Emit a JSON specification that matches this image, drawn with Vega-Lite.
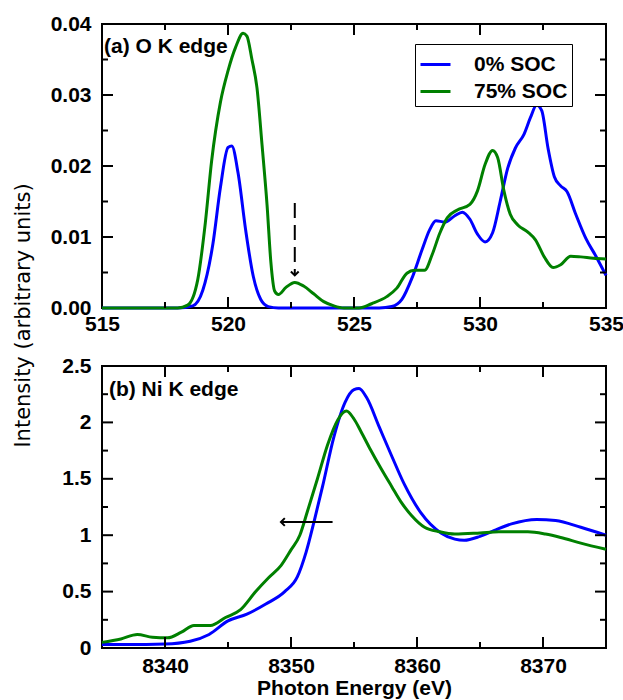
{
  "$schema": "https://vega.github.io/schema/vega-lite/v6.json",
  "padding": {"left": 11, "top": 12, "right": 0, "bottom": 0},
  "bounds": "flush",
  "spacing": 58,
  "config": {
    "view": {"stroke": "black", "strokeWidth": 2},
    "axis": {
      "domain": false, "ticks": false, "tickSize": 0, "grid": false,
      "labelFont": "Liberation Sans", "labelFontWeight": "bold", "labelFontSize": 21,
      "labelColor": "black", "labelFlush": false, "labelOverlap": false,
      "titleColor": "black"
    }
  },
  "datasets": {
    "ok": [
      {"s": "0% SOC", "e": 515, "v": 0}, {"s": "0% SOC", "e": 518.0, "v": 0}, {"s": "0% SOC", "e": 518.6, "v": 0.0003},
      {"s": "0% SOC", "e": 519.0, "v": 0.0025}, {"s": "0% SOC", "e": 519.4, "v": 0.009}, {"s": "0% SOC", "e": 519.7, "v": 0.017},
      {"s": "0% SOC", "e": 520.0, "v": 0.0226}, {"s": "0% SOC", "e": 520.15, "v": 0.0228}, {"s": "0% SOC", "e": 520.4, "v": 0.019},
      {"s": "0% SOC", "e": 520.7, "v": 0.011}, {"s": "0% SOC", "e": 521.0, "v": 0.0045}, {"s": "0% SOC", "e": 521.3, "v": 0.0012},
      {"s": "0% SOC", "e": 521.6, "v": 0.0002}, {"s": "0% SOC", "e": 522, "v": 0}, {"s": "0% SOC", "e": 526.0, "v": 0},
      {"s": "0% SOC", "e": 526.5, "v": 0.0002}, {"s": "0% SOC", "e": 526.9, "v": 0.0012}, {"s": "0% SOC", "e": 527.3, "v": 0.0042},
      {"s": "0% SOC", "e": 527.7, "v": 0.0082}, {"s": "0% SOC", "e": 528.0, "v": 0.011}, {"s": "0% SOC", "e": 528.25, "v": 0.0123},
      {"s": "0% SOC", "e": 528.6, "v": 0.0121}, {"s": "0% SOC", "e": 529.0, "v": 0.013}, {"s": "0% SOC", "e": 529.3, "v": 0.0135},
      {"s": "0% SOC", "e": 529.6, "v": 0.0125}, {"s": "0% SOC", "e": 529.9, "v": 0.0104}, {"s": "0% SOC", "e": 530.2, "v": 0.0093},
      {"s": "0% SOC", "e": 530.5, "v": 0.0106}, {"s": "0% SOC", "e": 530.8, "v": 0.015}, {"s": "0% SOC", "e": 531.1, "v": 0.0197},
      {"s": "0% SOC", "e": 531.4, "v": 0.0225}, {"s": "0% SOC", "e": 531.75, "v": 0.0245}, {"s": "0% SOC", "e": 532.0, "v": 0.0268},
      {"s": "0% SOC", "e": 532.25, "v": 0.0286}, {"s": "0% SOC", "e": 532.45, "v": 0.0278}, {"s": "0% SOC", "e": 532.7, "v": 0.0225},
      {"s": "0% SOC", "e": 532.95, "v": 0.0185}, {"s": "0% SOC", "e": 533.2, "v": 0.0172}, {"s": "0% SOC", "e": 533.45, "v": 0.0164},
      {"s": "0% SOC", "e": 533.8, "v": 0.0132}, {"s": "0% SOC", "e": 534.2, "v": 0.0098}, {"s": "0% SOC", "e": 534.6, "v": 0.0073},
      {"s": "0% SOC", "e": 535, "v": 0.0046},
      {"s": "75% SOC", "e": 515, "v": 0}, {"s": "75% SOC", "e": 518.0, "v": 0}, {"s": "75% SOC", "e": 518.4, "v": 0.0004},
      {"s": "75% SOC", "e": 518.8, "v": 0.004}, {"s": "75% SOC", "e": 519.1, "v": 0.012}, {"s": "75% SOC", "e": 519.35, "v": 0.0207},
      {"s": "75% SOC", "e": 519.7, "v": 0.029}, {"s": "75% SOC", "e": 520.0, "v": 0.0334}, {"s": "75% SOC", "e": 520.3, "v": 0.0367},
      {"s": "75% SOC", "e": 520.6, "v": 0.0387}, {"s": "75% SOC", "e": 520.75, "v": 0.0383}, {"s": "75% SOC", "e": 520.95, "v": 0.035},
      {"s": "75% SOC", "e": 521.15, "v": 0.031}, {"s": "75% SOC", "e": 521.35, "v": 0.023}, {"s": "75% SOC", "e": 521.55, "v": 0.0145},
      {"s": "75% SOC", "e": 521.7, "v": 0.0065}, {"s": "75% SOC", "e": 521.85, "v": 0.0024}, {"s": "75% SOC", "e": 522.0, "v": 0.0019},
      {"s": "75% SOC", "e": 522.3, "v": 0.0029}, {"s": "75% SOC", "e": 522.65, "v": 0.0036}, {"s": "75% SOC", "e": 523.0, "v": 0.0031},
      {"s": "75% SOC", "e": 523.4, "v": 0.002}, {"s": "75% SOC", "e": 523.8, "v": 0.0009}, {"s": "75% SOC", "e": 524.2, "v": 0.0003},
      {"s": "75% SOC", "e": 524.6, "v": 0}, {"s": "75% SOC", "e": 525.2, "v": 0}, {"s": "75% SOC", "e": 525.7, "v": 0.0006},
      {"s": "75% SOC", "e": 526.3, "v": 0.0016}, {"s": "75% SOC", "e": 526.7, "v": 0.0028}, {"s": "75% SOC", "e": 527.1, "v": 0.0049},
      {"s": "75% SOC", "e": 527.4, "v": 0.0053}, {"s": "75% SOC", "e": 527.8, "v": 0.0053}, {"s": "75% SOC", "e": 528.1, "v": 0.0075},
      {"s": "75% SOC", "e": 528.4, "v": 0.0105}, {"s": "75% SOC", "e": 528.7, "v": 0.0127}, {"s": "75% SOC", "e": 529.1, "v": 0.0138},
      {"s": "75% SOC", "e": 529.6, "v": 0.0146}, {"s": "75% SOC", "e": 529.9, "v": 0.0165}, {"s": "75% SOC", "e": 530.2, "v": 0.0202},
      {"s": "75% SOC", "e": 530.5, "v": 0.0222}, {"s": "75% SOC", "e": 530.7, "v": 0.0212}, {"s": "75% SOC", "e": 530.95, "v": 0.0165},
      {"s": "75% SOC", "e": 531.2, "v": 0.0132}, {"s": "75% SOC", "e": 531.5, "v": 0.0117}, {"s": "75% SOC", "e": 531.9, "v": 0.0107},
      {"s": "75% SOC", "e": 532.2, "v": 0.0096}, {"s": "75% SOC", "e": 532.55, "v": 0.0072}, {"s": "75% SOC", "e": 532.9, "v": 0.0057},
      {"s": "75% SOC", "e": 533.2, "v": 0.0061}, {"s": "75% SOC", "e": 533.6, "v": 0.0073}, {"s": "75% SOC", "e": 534.0, "v": 0.0072},
      {"s": "75% SOC", "e": 534.5, "v": 0.007}, {"s": "75% SOC", "e": 535, "v": 0.0069}
    ],
    "ni": [
      {"s": "0% SOC", "e": 8335, "v": 0.03}, {"s": "0% SOC", "e": 8337, "v": 0.03}, {"s": "0% SOC", "e": 8340, "v": 0.035},
      {"s": "0% SOC", "e": 8342, "v": 0.06}, {"s": "0% SOC", "e": 8343.5, "v": 0.12}, {"s": "0% SOC", "e": 8345, "v": 0.24},
      {"s": "0% SOC", "e": 8346.5, "v": 0.3}, {"s": "0% SOC", "e": 8348, "v": 0.39}, {"s": "0% SOC", "e": 8349.5, "v": 0.5},
      {"s": "0% SOC", "e": 8350.5, "v": 0.63}, {"s": "0% SOC", "e": 8351.2, "v": 0.85}, {"s": "0% SOC", "e": 8351.85, "v": 1.13},
      {"s": "0% SOC", "e": 8352.5, "v": 1.43}, {"s": "0% SOC", "e": 8353.4, "v": 1.87}, {"s": "0% SOC", "e": 8354.3, "v": 2.18},
      {"s": "0% SOC", "e": 8355.0, "v": 2.29}, {"s": "0% SOC", "e": 8355.4, "v": 2.3}, {"s": "0% SOC", "e": 8356.0, "v": 2.22},
      {"s": "0% SOC", "e": 8357.0, "v": 1.96}, {"s": "0% SOC", "e": 8358.0, "v": 1.7}, {"s": "0% SOC", "e": 8359.0, "v": 1.45},
      {"s": "0% SOC", "e": 8360.3, "v": 1.2}, {"s": "0% SOC", "e": 8361.9, "v": 1.02}, {"s": "0% SOC", "e": 8363.0, "v": 0.965},
      {"s": "0% SOC", "e": 8363.75, "v": 0.955}, {"s": "0% SOC", "e": 8365.0, "v": 0.99}, {"s": "0% SOC", "e": 8366.1, "v": 1.04},
      {"s": "0% SOC", "e": 8367.5, "v": 1.1}, {"s": "0% SOC", "e": 8369.5, "v": 1.14}, {"s": "0% SOC", "e": 8371, "v": 1.13},
      {"s": "0% SOC", "e": 8373, "v": 1.07}, {"s": "0% SOC", "e": 8375, "v": 1.0},
      {"s": "75% SOC", "e": 8335, "v": 0.05}, {"s": "75% SOC", "e": 8336.5, "v": 0.08}, {"s": "75% SOC", "e": 8337.8, "v": 0.12},
      {"s": "75% SOC", "e": 8339, "v": 0.095}, {"s": "75% SOC", "e": 8340.2, "v": 0.09}, {"s": "75% SOC", "e": 8341.3, "v": 0.14},
      {"s": "75% SOC", "e": 8342.3, "v": 0.2}, {"s": "75% SOC", "e": 8343.6, "v": 0.2}, {"s": "75% SOC", "e": 8344.8, "v": 0.27},
      {"s": "75% SOC", "e": 8346.0, "v": 0.34}, {"s": "75% SOC", "e": 8347.2, "v": 0.5}, {"s": "75% SOC", "e": 8348.2, "v": 0.62},
      {"s": "75% SOC", "e": 8349.2, "v": 0.73}, {"s": "75% SOC", "e": 8350.0, "v": 0.87}, {"s": "75% SOC", "e": 8350.7, "v": 1.0},
      {"s": "75% SOC", "e": 8351.3, "v": 1.21}, {"s": "75% SOC", "e": 8352.1, "v": 1.5}, {"s": "75% SOC", "e": 8352.9, "v": 1.8},
      {"s": "75% SOC", "e": 8353.7, "v": 2.02}, {"s": "75% SOC", "e": 8354.4, "v": 2.1}, {"s": "75% SOC", "e": 8355.0, "v": 2.03},
      {"s": "75% SOC", "e": 8355.55, "v": 1.92}, {"s": "75% SOC", "e": 8356.3, "v": 1.76}, {"s": "75% SOC", "e": 8357.1, "v": 1.6},
      {"s": "75% SOC", "e": 8358.0, "v": 1.43}, {"s": "75% SOC", "e": 8358.7, "v": 1.3}, {"s": "75% SOC", "e": 8359.6, "v": 1.17},
      {"s": "75% SOC", "e": 8360.6, "v": 1.07}, {"s": "75% SOC", "e": 8361.8, "v": 1.03}, {"s": "75% SOC", "e": 8363, "v": 1.01},
      {"s": "75% SOC", "e": 8365, "v": 1.02}, {"s": "75% SOC", "e": 8366.5, "v": 1.03}, {"s": "75% SOC", "e": 8368.8, "v": 1.03},
      {"s": "75% SOC", "e": 8370.2, "v": 1.01}, {"s": "75% SOC", "e": 8371.4, "v": 0.98}, {"s": "75% SOC", "e": 8373, "v": 0.93},
      {"s": "75% SOC", "e": 8375, "v": 0.875}
    ],
    "okNote": [{"px": 515.08, "py": 0.0368, "t": "(a) O K edge"}],
    "okArrow": [{"px": 522.65, "ytop": 0.0148, "ybot": 0.0048, "tip": 0.0046}],
    "niNote": [{"px": 8335.55, "py": 2.287, "t": "(b) Ni K edge"}],
    "niArrow": [{"xa": 8353.3, "xb": 8349.3, "py": 1.117, "tip": 8349.2}],
    "okXmaj": [{"t": 520}, {"t": 525}, {"t": 530}],
    "okXmin": [{"t": 517.5}, {"t": 522.5}, {"t": 527.5}, {"t": 532.5}],
    "okYmaj": [{"t": 0.01}, {"t": 0.02}, {"t": 0.03}],
    "okYmin": [{"t": 0.005}, {"t": 0.015}, {"t": 0.025}, {"t": 0.035}],
    "niXmaj": [{"t": 8340}, {"t": 8350}, {"t": 8360}, {"t": 8370}],
    "niXmin": [{"t": 8345}, {"t": 8355}, {"t": 8365}],
    "niYmaj": [{"t": 0.5}, {"t": 1}, {"t": 1.5}, {"t": 2}],
    "niYmin": [{"t": 0.25}, {"t": 0.75}, {"t": 1.25}, {"t": 1.75}, {"t": 2.25}]
  },
  "resolve": {"legend": {"color": "independent"}},
  "vconcat": [
    {
      "width": 504, "height": 284,
      "layer": [
        {
          "data": {"name": "ok"},
          "mark": {"type": "line", "strokeWidth": 3, "interpolate": "monotone"},
          "encoding": {
            "x": {"field": "e", "type": "quantitative", "scale": {"domain": [515, 535], "nice": false, "zero": false},
              "axis": {"orient": "bottom", "values": [515, 520, 525, 530, 535], "format": "d", "labelPadding": 5, "title": null}},
            "y": {"field": "v", "type": "quantitative", "scale": {"domain": [0, 0.04], "nice": false},
              "axis": {"orient": "left", "values": [0, 0.01, 0.02, 0.03, 0.04], "format": ".2f", "labelPadding": 11,
                "title": "Intensity (arbitrary units)", "titleFont": "DejaVu Sans", "titleFontWeight": "normal", "titleFontSize": 21,
                "titleAngle": -90, "titleBaseline": "alphabetic", "titleAlign": "center", "titleX": -73, "titleY": 291}},
            "color": {"field": "s", "type": "nominal", "scale": {"domain": ["0% SOC", "75% SOC"], "range": ["#0000ff", "#008000"]},
              "legend": {"orient": "none", "legendX": 313, "legendY": 20, "title": null, "strokeColor": "black",
                "fillColor": "white", "padding": 4, "symbolType": "stroke", "symbolSize": 900, "symbolStrokeWidth": 3,
                "labelFont": "Liberation Sans", "labelFontWeight": "bold", "labelFontSize": 21, "labelColor": "black",
                "labelOffset": 22, "rowPadding": -5}}
          }
        },
        {
          "data": {"name": "okArrow"},
          "mark": {"type": "rule", "strokeWidth": 2, "strokeDash": [15, 7], "color": "black"},
          "encoding": {
            "x": {"field": "px", "type": "quantitative"},
            "y": {"field": "ytop", "type": "quantitative"},
            "y2": {"field": "ybot"}
          }
        },
        {
          "data": {"name": "okArrow"},
          "mark": {"type": "point", "shape": "M-1,-1L0,0L1,-1", "filled": false, "stroke": "black", "strokeWidth": 2, "size": 60, "opacity": 1},
          "encoding": {
            "x": {"field": "px", "type": "quantitative"},
            "y": {"field": "tip", "type": "quantitative"}
          }
        },
        {
          "data": {"name": "okNote"},
          "mark": {"type": "text", "align": "left", "baseline": "middle", "font": "Liberation Sans", "fontWeight": "bold", "fontSize": 21, "color": "black"},
          "encoding": {
            "x": {"field": "px", "type": "quantitative"},
            "y": {"field": "py", "type": "quantitative"},
            "text": {"field": "t"}
          }
        },
        {
          "data": {"name": "okXmaj"},
          "mark": {"type": "tick", "orient": "vertical", "size": 11, "thickness": 2, "color": "black", "opacity": 1, "yOffset": -5.5},
          "encoding": {"x": {"field": "t", "type": "quantitative"}, "y": {"datum": 0, "type": "quantitative"}}
        },
        {
          "data": {"name": "okXmaj"},
          "mark": {"type": "tick", "orient": "vertical", "size": 11, "thickness": 2, "color": "black", "opacity": 1, "yOffset": 5.5},
          "encoding": {"x": {"field": "t", "type": "quantitative"}, "y": {"datum": 0.04, "type": "quantitative"}}
        },
        {
          "data": {"name": "okXmin"},
          "mark": {"type": "tick", "orient": "vertical", "size": 6, "thickness": 2, "color": "black", "opacity": 1, "yOffset": -3},
          "encoding": {"x": {"field": "t", "type": "quantitative"}, "y": {"datum": 0, "type": "quantitative"}}
        },
        {
          "data": {"name": "okXmin"},
          "mark": {"type": "tick", "orient": "vertical", "size": 6, "thickness": 2, "color": "black", "opacity": 1, "yOffset": 3},
          "encoding": {"x": {"field": "t", "type": "quantitative"}, "y": {"datum": 0.04, "type": "quantitative"}}
        },
        {
          "data": {"name": "okYmaj"},
          "mark": {"type": "tick", "orient": "horizontal", "size": 11, "thickness": 2, "color": "black", "opacity": 1, "xOffset": 5.5},
          "encoding": {"y": {"field": "t", "type": "quantitative"}, "x": {"datum": 515, "type": "quantitative"}}
        },
        {
          "data": {"name": "okYmaj"},
          "mark": {"type": "tick", "orient": "horizontal", "size": 11, "thickness": 2, "color": "black", "opacity": 1, "xOffset": -5.5},
          "encoding": {"y": {"field": "t", "type": "quantitative"}, "x": {"datum": 535, "type": "quantitative"}}
        },
        {
          "data": {"name": "okYmin"},
          "mark": {"type": "tick", "orient": "horizontal", "size": 6, "thickness": 2, "color": "black", "opacity": 1, "xOffset": 3},
          "encoding": {"y": {"field": "t", "type": "quantitative"}, "x": {"datum": 515, "type": "quantitative"}}
        },
        {
          "data": {"name": "okYmin"},
          "mark": {"type": "tick", "orient": "horizontal", "size": 6, "thickness": 2, "color": "black", "opacity": 1, "xOffset": -3},
          "encoding": {"y": {"field": "t", "type": "quantitative"}, "x": {"datum": 535, "type": "quantitative"}}
        }
      ]
    },
    {
      "width": 504, "height": 282,
      "layer": [
        {
          "data": {"name": "ni"},
          "mark": {"type": "line", "strokeWidth": 3, "interpolate": "monotone"},
          "encoding": {
            "x": {"field": "e", "type": "quantitative", "scale": {"domain": [8335, 8375], "nice": false, "zero": false},
              "axis": {"orient": "bottom", "values": [8340, 8350, 8360, 8370], "format": "d", "labelPadding": 7,
                "title": "Photon Energy (eV)", "titleFont": "Liberation Sans", "titleFontWeight": "bold", "titleFontSize": 21, "titlePadding": 1}},
            "y": {"field": "v", "type": "quantitative", "scale": {"domain": [0, 2.5], "nice": false},
              "axis": {"orient": "left", "values": [0, 0.5, 1, 1.5, 2, 2.5], "format": "~g", "labelPadding": 11, "title": null}},
            "color": {"field": "s", "type": "nominal", "scale": {"domain": ["0% SOC", "75% SOC"], "range": ["#0000ff", "#008000"]}, "legend": null}
          }
        },
        {
          "data": {"name": "niArrow"},
          "mark": {"type": "rule", "strokeWidth": 2, "color": "black"},
          "encoding": {
            "x": {"field": "xa", "type": "quantitative"},
            "x2": {"field": "xb"},
            "y": {"field": "py", "type": "quantitative"}
          }
        },
        {
          "data": {"name": "niArrow"},
          "mark": {"type": "point", "shape": "M1,-1L0,0L1,1", "filled": false, "stroke": "black", "strokeWidth": 2, "size": 60, "opacity": 1},
          "encoding": {
            "x": {"field": "tip", "type": "quantitative"},
            "y": {"field": "py", "type": "quantitative"}
          }
        },
        {
          "data": {"name": "niNote"},
          "mark": {"type": "text", "align": "left", "baseline": "middle", "font": "Liberation Sans", "fontWeight": "bold", "fontSize": 21, "color": "black"},
          "encoding": {
            "x": {"field": "px", "type": "quantitative"},
            "y": {"field": "py", "type": "quantitative"},
            "text": {"field": "t"}
          }
        },
        {
          "data": {"name": "niXmaj"},
          "mark": {"type": "tick", "orient": "vertical", "size": 11, "thickness": 2, "color": "black", "opacity": 1, "yOffset": -5.5},
          "encoding": {"x": {"field": "t", "type": "quantitative"}, "y": {"datum": 0, "type": "quantitative"}}
        },
        {
          "data": {"name": "niXmaj"},
          "mark": {"type": "tick", "orient": "vertical", "size": 11, "thickness": 2, "color": "black", "opacity": 1, "yOffset": 5.5},
          "encoding": {"x": {"field": "t", "type": "quantitative"}, "y": {"datum": 2.5, "type": "quantitative"}}
        },
        {
          "data": {"name": "niXmin"},
          "mark": {"type": "tick", "orient": "vertical", "size": 6, "thickness": 2, "color": "black", "opacity": 1, "yOffset": -3},
          "encoding": {"x": {"field": "t", "type": "quantitative"}, "y": {"datum": 0, "type": "quantitative"}}
        },
        {
          "data": {"name": "niXmin"},
          "mark": {"type": "tick", "orient": "vertical", "size": 6, "thickness": 2, "color": "black", "opacity": 1, "yOffset": 3},
          "encoding": {"x": {"field": "t", "type": "quantitative"}, "y": {"datum": 2.5, "type": "quantitative"}}
        },
        {
          "data": {"name": "niYmaj"},
          "mark": {"type": "tick", "orient": "horizontal", "size": 11, "thickness": 2, "color": "black", "opacity": 1, "xOffset": 5.5},
          "encoding": {"y": {"field": "t", "type": "quantitative"}, "x": {"datum": 8335, "type": "quantitative"}}
        },
        {
          "data": {"name": "niYmaj"},
          "mark": {"type": "tick", "orient": "horizontal", "size": 11, "thickness": 2, "color": "black", "opacity": 1, "xOffset": -5.5},
          "encoding": {"y": {"field": "t", "type": "quantitative"}, "x": {"datum": 8375, "type": "quantitative"}}
        },
        {
          "data": {"name": "niYmin"},
          "mark": {"type": "tick", "orient": "horizontal", "size": 6, "thickness": 2, "color": "black", "opacity": 1, "xOffset": 3},
          "encoding": {"y": {"field": "t", "type": "quantitative"}, "x": {"datum": 8335, "type": "quantitative"}}
        },
        {
          "data": {"name": "niYmin"},
          "mark": {"type": "tick", "orient": "horizontal", "size": 6, "thickness": 2, "color": "black", "opacity": 1, "xOffset": -3},
          "encoding": {"y": {"field": "t", "type": "quantitative"}, "x": {"datum": 8375, "type": "quantitative"}}
        }
      ]
    }
  ]
}
